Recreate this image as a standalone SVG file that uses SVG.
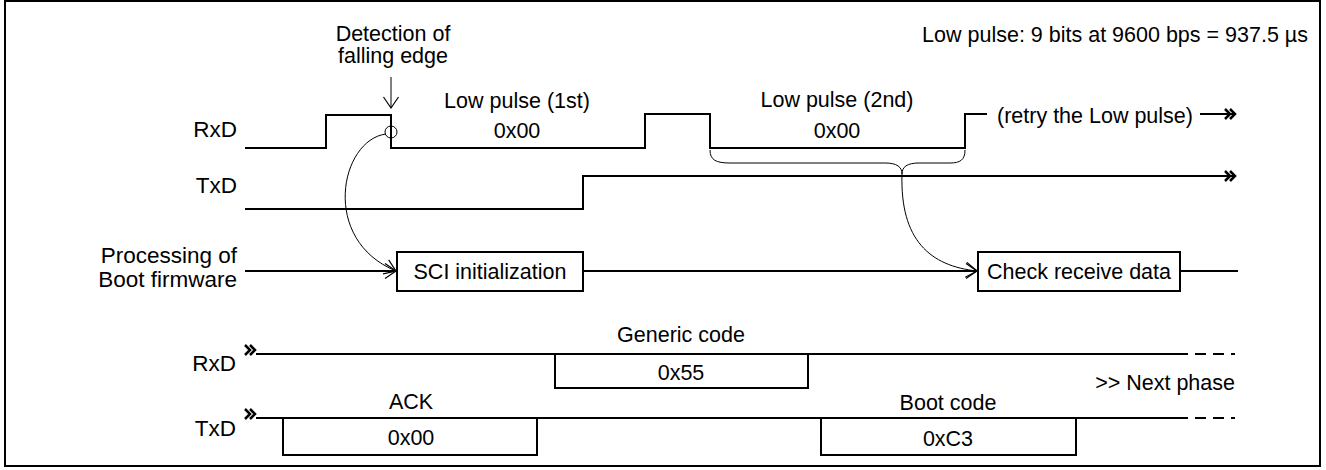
<svg xmlns="http://www.w3.org/2000/svg" width="1326" height="470" viewBox="0 0 1326 470">
<style>
text{font-family:"Liberation Sans",Arial,sans-serif;font-size:21.5px;fill:#000}
.m{text-anchor:middle}.e{text-anchor:end}
.lb{font-size:22.5px}
.sig{fill:none;stroke:#000;stroke-width:2}
.thin{fill:none;stroke:#000;stroke-width:1}
.box{fill:#fff;stroke:#000;stroke-width:2}
.chev{fill:none;stroke:#000;stroke-width:2.5}
</style>
<defs>
<marker id="open" markerWidth="16" markerHeight="18" refX="13" refY="9" orient="auto" markerUnits="userSpaceOnUse">
<path d="M2,1.5 L13,9 L2,16.5" fill="none" stroke="#000" stroke-width="1.2"/>
</marker>
<marker id="dbl" markerWidth="14" markerHeight="14" refX="12" refY="7" orient="auto" markerUnits="userSpaceOnUse">
<path d="M1,2 L6,7 L1,12 M6,2 L11,7 L6,12" fill="none" stroke="#000" stroke-width="2.5"/>
</marker>
</defs>
<rect x="5" y="1" width="1315" height="465" fill="#fff" stroke="#000" stroke-width="2"/>
<text class="e" x="1308" y="42">Low pulse: 9 bits at 9600 bps = 937.5 µs</text>

<g id="labels">
<text class="e lb" x="237" y="137">RxD</text>
<text class="e lb" x="237" y="193">TxD</text>
<text class="e lb" x="237" y="263">Processing of</text>
<text class="e lb" x="237" y="287">Boot firmware</text>
<text class="e lb" x="236" y="371">RxD</text>
<text class="e lb" x="236" y="436">TxD</text>
</g>

<g id="rxd-top">
<path class="sig" d="M245,148 H326 V115 H391 V148 H645 V114 H710 V148 H965 V114 H987"/>
<circle cx="391" cy="132" r="6" class="thin"/>
<text class="m" x="393" y="41">Detection of</text>
<text class="m" x="393" y="63">falling edge</text>
<text class="m" x="517" y="108">Low pulse (1st)</text>
<text class="m" x="517" y="138">0x00</text>
<text class="m" x="837" y="107">Low pulse (2nd)</text>
<text class="m" x="837" y="138">0x00</text>
<text x="997" y="123">(retry the Low pulse)</text>
</g>

<g id="txd-top">
<path class="sig" d="M245,209 H583 V176 H1236" marker-end="url(#dbl)"/>
</g>

<g id="proc">
<rect id="sci" class="box" x="397" y="252" width="186" height="39"/>
<text class="m" x="490" y="279">SCI initialization</text>
<rect id="check" class="box" x="978" y="252" width="202" height="39"/>
<text class="m" x="1079" y="279">Check receive data</text>
</g>

<g id="rxd-bottom">
<path class="sig" d="M256,354 H1177"/>
<path class="sig" d="M1177,354 H1235" stroke-dasharray="11,7"/>
<path class="sig" d="M555,354 V388 H808 V354"/>
<text class="m" x="681" y="342">Generic code</text>
<text class="m" x="681" y="380">0x55</text>
<text class="e" x="1235" y="390">&gt;&gt; Next phase</text>
</g>

<g id="txd-bottom">
<path class="sig" d="M256,418 H1177"/>
<path class="sig" d="M1177,418 H1235" stroke-dasharray="11,7"/>
<path class="sig" d="M283,418 V455 H537 V418"/>
<path class="sig" d="M821,418 V455 H1076 V418"/>
<text class="m" x="411" y="409">ACK</text>
<text class="m" x="411" y="445">0x00</text>
<text class="m" x="948" y="410">Boot code</text>
<text class="m" x="948" y="446">0xC3</text>
</g>

<g id="connectors">
<path class="sig" d="M245,271 H396" marker-end="url(#open)"/>
<path class="sig" d="M583,271 H977" marker-end="url(#open)"/>
<path class="sig" d="M1180,271 H1238"/>
<path class="sig" d="M1200,114 H1236" marker-end="url(#dbl)"/>
<path class="thin" d="M391,77 V108" marker-end="url(#open)"/>
<path class="thin" d="M386,134 C340,140 320,240 396,271" marker-end="url(#open)"/>
<path class="thin" d="M710,150 C710,160 716,163 730,163 H885 C897,163 902,167 902,174 C902,167 907,163 919,163 H950 C960,163 965,160 965,150"/>
<path class="thin" d="M902,174 C900,240 930,266 977,271" marker-end="url(#open)"/>
<path class="chev" d="M245,345 L250,350 L245,355 M250,345 L255,350 L250,355"/>
<path class="chev" d="M245,409 L250,414 L245,419 M250,409 L255,414 L250,419"/>
</g>
</svg>
